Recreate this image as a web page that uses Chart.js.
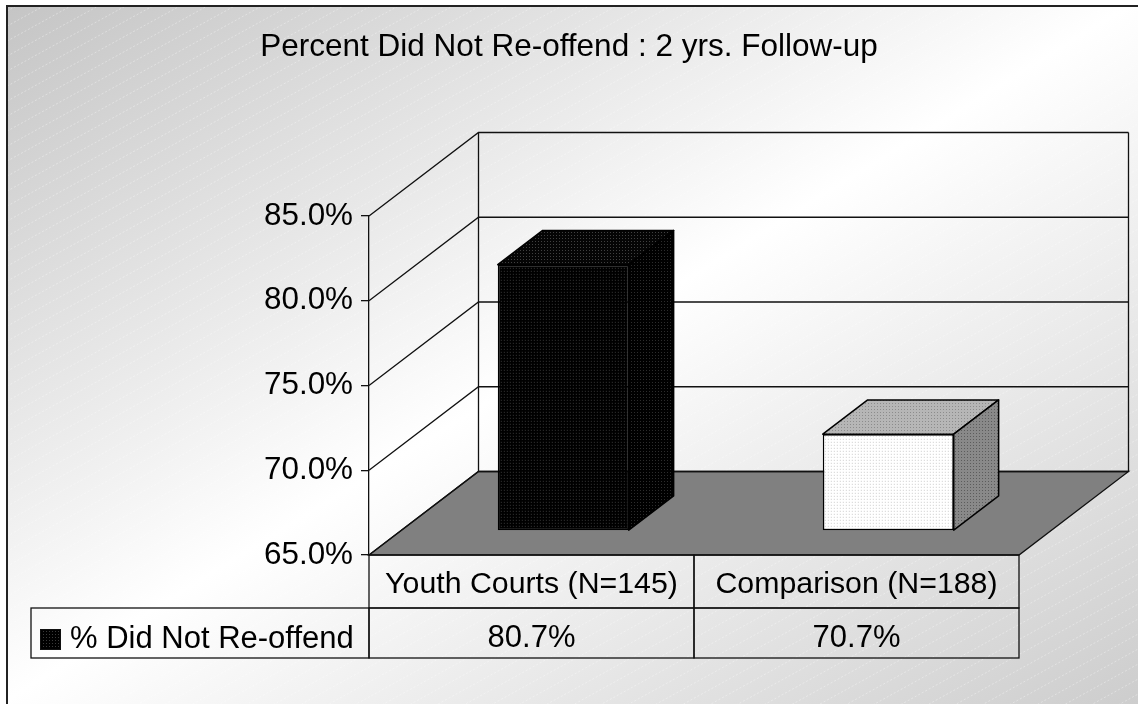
<!DOCTYPE html>
<html>
<head>
<meta charset="utf-8">
<title>Percent Did Not Re-offend</title>
<script src="https://cdn.jsdelivr.net/npm/chart.js@4.4.0/dist/chart.umd.min.js"></script>
<style>
    html, body { margin: 0; padding: 0; background: #ffffff; }
    #divChartReoffend { position: relative; width: 1138px; height: 704px; }
</style>
</head>
<body>
<div id="divChartReoffend"><canvas id="chartReoffend"></canvas></div>
<script>
// chart values
var chartTitle = 'Percent Did Not Re-offend : 2 yrs. Follow-up';
var categories = ['Youth Courts (N=145)', 'Comparison (N=188)'];
var seriesName = '% Did Not Re-offend';
var pctDidNotReoffend = [80.7, 70.7];
var yTicks = [65, 70, 75, 80, 85];

var FONT = '"Liberation Sans", Arial, sans-serif';
// oblique 3D look: offset of the back wall from the front plane
var DX = 109.5, DY = -83.5;
var BAR_FRONT = 0.29, BAR_BACK = 0.70;

var ctx = document.getElementById('chartReoffend');
var ctx2d = ctx.getContext('2d');

function makePattern(base, dot) {
    var c = document.createElement('canvas');
    c.width = 3; c.height = 3;
    var g = c.getContext('2d');
    g.fillStyle = base;
    g.fillRect(0, 0, 3, 3);
    g.fillStyle = dot;
    g.fillRect(1, 1, 1, 1);
    return ctx2d.createPattern(c, 'repeat');
}

// front / top / side fill of each bar
var barFaces = [
    { front: makePattern('#000000', '#3a3a3a'), top: makePattern('#050505', '#404040'), side: makePattern('#000000', '#2c2c2c') },
    { front: makePattern('#ffffff', '#cdcdcd'), top: makePattern('#b6b6b6', '#8c8c8c'), side: makePattern('#898989', '#5c5c5c') }
];

function poly(c, pts) {
    c.beginPath();
    c.moveTo(pts[0][0], pts[0][1]);
    for (var i = 1; i < pts.length; i++) c.lineTo(pts[i][0], pts[i][1]);
    c.closePath();
}

var backgroundPlugin = {
    id: 'background',
    beforeDraw: function(chart) {
        var c = chart.ctx, w = chart.width, h = chart.height;
        c.save();
        c.fillStyle = '#ffffff';
        c.fillRect(0, 0, w, h);
        var grad = c.createLinearGradient(254, -157, 884, 861);
        grad.addColorStop(0, '#c4c4c4');
        grad.addColorStop(0.5, '#ffffff');
        grad.addColorStop(1, '#cdcdcd');
        c.fillStyle = grad;
        c.fillRect(8, 7, w, h);
        // faint diagonal streaks
        c.beginPath();
        c.rect(8, 7, w, h);
        c.clip();
        c.strokeStyle = 'rgba(255,255,255,0.35)';
        c.lineWidth = 1;
        c.setLineDash([2, 2]);
        for (var k = 0; k < h + w; k += 15) {
            c.beginPath();
            c.moveTo(0, k);
            c.lineTo(w, k - w * 0.55);
            c.stroke();
        }
        c.restore();
        c.save();
        c.strokeStyle = '#222222';
        c.lineWidth = 2;
        c.strokeRect(7, 6, w + 10, h + 10);
        c.restore();
    }
};

var box3dPlugin = {
    id: 'box3d',
    beforeDatasetsDraw: function(chart) {
        var c = chart.ctx, y = chart.scales.y, area = chart.chartArea;
        var L = area.left, R = area.right;
        var B = y.getPixelForValue(yTicks[0]);
        var T = y.getPixelForValue(yTicks[yTicks.length - 1]);
        c.save();
        c.lineWidth = 1.3;
        c.strokeStyle = '#111111';
        // floor
        poly(c, [[L, B], [L + DX, B + DY], [R + DX, B + DY], [R, B]]);
        c.fillStyle = '#808080';
        c.fill();
        c.stroke();
        // left wall and back wall grid lines
        yTicks.forEach(function(v) {
            var py = y.getPixelForValue(v);
            c.beginPath();
            c.moveTo(L, py);
            c.lineTo(L + DX, py + DY);
            c.lineTo(R + DX, py + DY);
            c.stroke();
        });
        c.beginPath();
        c.moveTo(L + DX, T + DY);
        c.lineTo(L + DX, B + DY);
        c.moveTo(R + DX, T + DY);
        c.lineTo(R + DX, B + DY);
        c.stroke();
        c.restore();
        // front faces of the bars are drawn by chart.js, pushed back onto the floor
        c.save();
        c.translate(BAR_FRONT * DX, BAR_FRONT * DY);
    },
    afterDatasetsDraw: function(chart) {
        var c = chart.ctx;
        c.restore();
        var meta = chart.getDatasetMeta(0);
        var fx = BAR_FRONT * DX, fy = BAR_FRONT * DY;
        var bx = BAR_BACK * DX, by = BAR_BACK * DY;
        c.save();
        c.lineWidth = 1.5;
        c.strokeStyle = '#000000';
        c.lineJoin = 'round';
        meta.data.forEach(function(bar, i) {
            var p = bar.getProps(['x', 'y', 'base', 'width'], true);
            var l = p.x - p.width / 2, r = p.x + p.width / 2;
            poly(c, [[l + fx, p.y + fy], [l + bx, p.y + by], [r + bx, p.y + by], [r + fx, p.y + fy]]);
            c.fillStyle = barFaces[i].top;
            c.fill();
            c.stroke();
            poly(c, [[r + fx, p.y + fy], [r + bx, p.y + by], [r + bx, p.base + by], [r + fx, p.base + fy]]);
            c.fillStyle = barFaces[i].side;
            c.fill();
            c.stroke();
        });
        c.restore();
    }
};

var dataTablePlugin = {
    id: 'dataTable',
    afterDraw: function(chart) {
        var c = chart.ctx, area = chart.chartArea;
        var L = area.left, R = area.right;
        var colW = (R - L) / categories.length;
        var top = chart.scales.y.getPixelForValue(yTicks[0]);
        var rowH1 = 53, rowH2 = 50, tableLeft = 31;
        var top2 = top + rowH1;
        c.save();
        c.lineWidth = 1.3;
        c.strokeStyle = '#111111';
        c.strokeRect(tableLeft, top2, L - tableLeft, rowH2);
        categories.forEach(function(cat, i) {
            c.strokeRect(L + i * colW, top, colW, rowH1);
            c.strokeRect(L + i * colW, top2, colW, rowH2);
        });
        c.fillStyle = '#000000';
        c.textAlign = 'center';
        c.textBaseline = 'alphabetic';
        categories.forEach(function(cat, i) {
            var cx = chart.scales.x.getPixelForValue(i);
            c.font = '30.3px ' + FONT;
            c.fillText(cat, cx, top + 38);
            c.font = '31px ' + FONT;
            c.fillText(pctDidNotReoffend[i].toFixed(1) + '%', cx, top2 + 38.5);
        });
        // legend key
        c.fillStyle = barFaces[0].front;
        c.fillRect(40, top2 + 21, 21, 21);
        c.lineWidth = 1;
        c.strokeRect(40.5, top2 + 21.5, 20, 20);
        c.fillStyle = '#000000';
        c.textAlign = 'left';
        c.font = '31px ' + FONT;
        c.fillText(seriesName, 70, top2 + 40);
        c.restore();
    }
};

Chart.defaults.font.family = FONT;
Chart.defaults.color = '#000000';

var myChartReoffend = new Chart(ctx, {
    type: 'bar',
    data: {
        labels: categories,
        datasets: [{
            label: seriesName,
            data: pctDidNotReoffend,
            base: yTicks[0],
            yAxisID: 'y',
            backgroundColor: barFaces.map(function(f) { return f.front; }),
            borderColor: '#000000',
            borderWidth: 1.5,
            borderSkipped: false,
            categoryPercentage: 1.0,
            barPercentage: 0.403
        }]
    },
    options: {
        responsive: true,
        maintainAspectRatio: false,
        animation: false,
        events: [],
        layout: {
            padding: { left: 0, right: 0, top: 0, bottom: 149 }
        },
        plugins: {
            legend: { display: false },
            tooltip: { enabled: false },
            title: {
                display: true,
                text: chartTitle,
                color: '#000000',
                font: { size: 31.5, weight: 'normal', family: FONT, lineHeight: 1.2 },
                padding: { top: 28, bottom: 150.2 }
            }
        },
        scales: {
            x: {
                display: false
            },
            y: {
                min: yTicks[0],
                max: yTicks[yTicks.length - 1],
                afterBuildTicks: function(scale) {
                    scale.ticks = yTicks.map(function(v) { return { value: v }; });
                },
                afterFit: function(scale) {
                    scale.width = 369;
                },
                ticks: {
                    font: { size: 31.4 },
                    color: '#000000',
                    padding: 8,
                    callback: function(v) { return Number(v).toFixed(1) + '%'; }
                },
                grid: {
                    drawOnChartArea: false,
                    drawTicks: true,
                    tickLength: 8,
                    color: '#111111',
                    lineWidth: 1.3
                },
                border: { display: true, color: '#111111', width: 1.3 }
            },
            // keeps the front plane clear of the right side, title stays centred on the page
            yRightGap: {
                position: 'right',
                display: true,
                grid: { display: false },
                border: { display: false },
                ticks: { display: false },
                afterFit: function(scale) {
                    scale.width = 119;
                }
            }
        }
    },
    plugins: [backgroundPlugin, box3dPlugin, dataTablePlugin]
});
</script>
</body>
</html>
